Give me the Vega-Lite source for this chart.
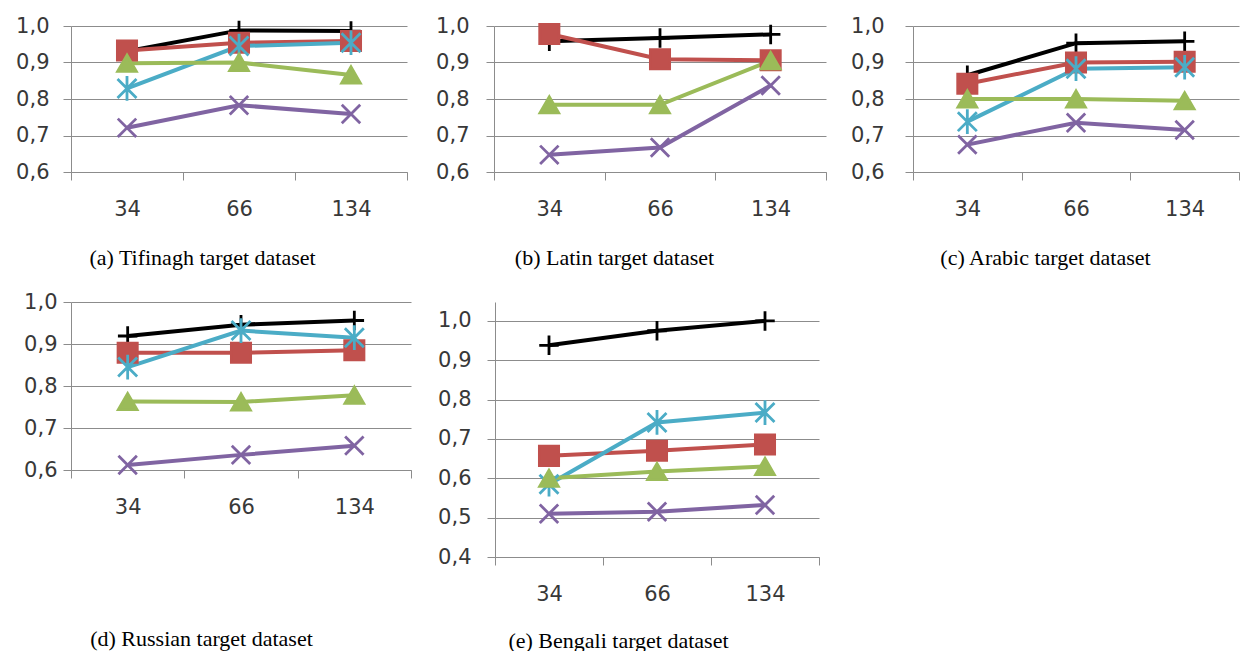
{
  "$schema": "https://vega.github.io/schema/vega-lite/v6.json",
  "background": "white",
  "padding": {"left": 15, "top": 15, "right": 0, "bottom": 0},
  "config": {
    "view": {"stroke": null},
    "axis": {"labelFont": "DejaVu Sans", "labelFontSize": 21, "labelColor": "#383838", "domainColor": "#8c8c8c", "tickColor": "#8c8c8c", "gridColor": "#8c8c8c", "tickSize": 8, "titleFont": "Liberation Serif", "titleFontSize": 22, "titleFontWeight": "normal", "titleColor": "#000000"},
    "axisX": {"grid": false, "labelAngle": 0, "tickBand": "extent", "labelPadding": 18, "titlePadding": 28, "titleAlign": "center"},
    "axisY": {"grid": true, "labelExpr": "replace(format(datum.value, '.1f'), '.', ',')"}
  },
  "data": {"values": [
    {"p":"a","n":"34","s":"A","v":0.931},{"p":"a","n":"66","s":"A","v":0.988},{"p":"a","n":"134","s":"A","v":0.986},
    {"p":"a","n":"34","s":"B","v":0.933},{"p":"a","n":"66","s":"B","v":0.954},{"p":"a","n":"134","s":"B","v":0.959},
    {"p":"a","n":"34","s":"C","v":0.829},{"p":"a","n":"66","s":"C","v":0.945},{"p":"a","n":"134","s":"C","v":0.954},
    {"p":"a","n":"34","s":"D","v":0.898},{"p":"a","n":"66","s":"D","v":0.9},{"p":"a","n":"134","s":"D","v":0.866},
    {"p":"a","n":"34","s":"E","v":0.721},{"p":"a","n":"66","s":"E","v":0.783},{"p":"a","n":"134","s":"E","v":0.759},
    {"p":"b","n":"34","s":"A","v":0.958},{"p":"b","n":"66","s":"A","v":0.967},{"p":"b","n":"134","s":"A","v":0.977},
    {"p":"b","n":"34","s":"B","v":0.978},{"p":"b","n":"66","s":"B","v":0.909},{"p":"b","n":"134","s":"B","v":0.906},
    {"p":"b","n":"34","s":"D","v":0.784},{"p":"b","n":"66","s":"D","v":0.784},{"p":"b","n":"134","s":"D","v":0.905},
    {"p":"b","n":"34","s":"E","v":0.647},{"p":"b","n":"66","s":"E","v":0.667},{"p":"b","n":"134","s":"E","v":0.837},
    {"p":"c","n":"34","s":"A","v":0.865},{"p":"c","n":"66","s":"A","v":0.953},{"p":"c","n":"134","s":"A","v":0.958},
    {"p":"c","n":"34","s":"B","v":0.842},{"p":"c","n":"66","s":"B","v":0.9},{"p":"c","n":"134","s":"B","v":0.902},
    {"p":"c","n":"34","s":"C","v":0.738},{"p":"c","n":"66","s":"C","v":0.883},{"p":"c","n":"134","s":"C","v":0.887},
    {"p":"c","n":"34","s":"D","v":0.8},{"p":"c","n":"66","s":"D","v":0.8},{"p":"c","n":"134","s":"D","v":0.795},
    {"p":"c","n":"34","s":"E","v":0.675},{"p":"c","n":"66","s":"E","v":0.735},{"p":"c","n":"134","s":"E","v":0.715},
    {"p":"d","n":"34","s":"A","v":0.919},{"p":"d","n":"66","s":"A","v":0.946},{"p":"d","n":"134","s":"A","v":0.956},
    {"p":"d","n":"34","s":"B","v":0.879},{"p":"d","n":"66","s":"B","v":0.879},{"p":"d","n":"134","s":"B","v":0.885},
    {"p":"d","n":"34","s":"C","v":0.845},{"p":"d","n":"66","s":"C","v":0.932},{"p":"d","n":"134","s":"C","v":0.915},
    {"p":"d","n":"34","s":"D","v":0.763},{"p":"d","n":"66","s":"D","v":0.762},{"p":"d","n":"134","s":"D","v":0.778},
    {"p":"d","n":"34","s":"E","v":0.612},{"p":"d","n":"66","s":"E","v":0.636},{"p":"d","n":"134","s":"E","v":0.658},
    {"p":"e","n":"34","s":"A","v":0.938},{"p":"e","n":"66","s":"A","v":0.975},{"p":"e","n":"134","s":"A","v":1.0},
    {"p":"e","n":"34","s":"B","v":0.657},{"p":"e","n":"66","s":"B","v":0.67},{"p":"e","n":"134","s":"B","v":0.686},
    {"p":"e","n":"34","s":"C","v":0.585},{"p":"e","n":"66","s":"C","v":0.742},{"p":"e","n":"134","s":"C","v":0.767},
    {"p":"e","n":"34","s":"D","v":0.6},{"p":"e","n":"66","s":"D","v":0.617},{"p":"e","n":"134","s":"D","v":0.63},
    {"p":"e","n":"34","s":"E","v":0.51},{"p":"e","n":"66","s":"E","v":0.515},{"p":"e","n":"134","s":"E","v":0.532}
  ]},
  "bounds": "flush",
  "spacing": 276,
  "vconcat": [
    {
      "bounds": "flush",
      "spacing": 87,
      "hconcat": [
        {
          "width": 336, "height": 146,
          "transform": [{"filter": "datum.p === 'a'"}],
          "encoding": {
            "x": {"field": "n", "type": "ordinal", "sort": ["34", "66", "134"], "scale": {"type": "band", "paddingInner": 0, "paddingOuter": 0}, "axis": {"title": "(a) Tifinagh target dataset", "titleX": 131}},
            "y": {"field": "v", "type": "quantitative", "scale": {"domain": [0.6, 1.0], "nice": false, "zero": false}, "axis": {"title": null, "values": [0.6, 0.7, 0.8, 0.9, 1.0], "labelPadding": 14}},
            "color": {"field": "s", "type": "nominal", "scale": {"domain": ["A", "B", "C", "D", "E"], "range": ["#000000", "#C0504D", "#4BACC6", "#9BBB59", "#8064A2"]}, "legend": null}
          },
          "layer": [
            {"mark": {"type": "line", "strokeWidth": 4}},
            {"mark": {"type": "point", "filled": false, "opacity": 1, "strokeWidth": 2.8},
             "encoding": {
               "shape": {"field": "s", "type": "nominal", "scale": {"domain": ["A", "B", "C", "D", "E"], "range": ["M-1,0L1,0M0,-1L0,1", "square", "M-1,-1L1,1M-1,1L1,-1M0,-1.3L0,1.3", "triangle-up", "M-1,-1L1,1M-1,1L1,-1"]}, "legend": null},
               "fill": {"field": "s", "type": "nominal", "scale": {"domain": ["A", "B", "C", "D", "E"], "range": ["transparent", "#C0504D", "transparent", "#9BBB59", "transparent"]}, "legend": null},
               "size": {"field": "s", "type": "nominal", "scale": {"domain": ["A", "B", "C", "D", "E"], "range": [380, 340, 260, 450, 330]}, "legend": null}
             }}
          ]
        },
        {
          "width": 332, "height": 146,
          "transform": [{"filter": "datum.p === 'b'"}],
          "encoding": {
            "x": {"field": "n", "type": "ordinal", "sort": ["34", "66", "134"], "scale": {"type": "band", "paddingInner": 0, "paddingOuter": 0}, "axis": {"title": "(b) Latin target dataset", "titleX": 120}},
            "y": {"field": "v", "type": "quantitative", "scale": {"domain": [0.6, 1.0], "nice": false, "zero": false}, "axis": {"title": null, "values": [0.6, 0.7, 0.8, 0.9, 1.0], "labelPadding": 17}},
            "color": {"field": "s", "type": "nominal", "scale": {"domain": ["A", "B", "C", "D", "E"], "range": ["#000000", "#C0504D", "#4BACC6", "#9BBB59", "#8064A2"]}, "legend": null}
          },
          "layer": [
            {"mark": {"type": "line", "strokeWidth": 4}},
            {"mark": {"type": "point", "filled": false, "opacity": 1, "strokeWidth": 2.8},
             "encoding": {
               "shape": {"field": "s", "type": "nominal", "scale": {"domain": ["A", "B", "C", "D", "E"], "range": ["M-1,0L1,0M0,-1L0,1", "square", "M-1,-1L1,1M-1,1L1,-1M0,-1.3L0,1.3", "triangle-up", "M-1,-1L1,1M-1,1L1,-1"]}, "legend": null},
               "fill": {"field": "s", "type": "nominal", "scale": {"domain": ["A", "B", "C", "D", "E"], "range": ["transparent", "#C0504D", "transparent", "#9BBB59", "transparent"]}, "legend": null},
               "size": {"field": "s", "type": "nominal", "scale": {"domain": ["A", "B", "C", "D", "E"], "range": [380, 340, 260, 450, 330]}, "legend": null}
             }}
          ]
        },
        {
          "width": 326, "height": 146,
          "transform": [{"filter": "datum.p === 'c'"}],
          "encoding": {
            "x": {"field": "n", "type": "ordinal", "sort": ["34", "66", "134"], "scale": {"type": "band", "paddingInner": 0, "paddingOuter": 0}, "axis": {"title": "(c) Arabic target dataset", "titleX": 132}},
            "y": {"field": "v", "type": "quantitative", "scale": {"domain": [0.6, 1.0], "nice": false, "zero": false}, "axis": {"title": null, "values": [0.6, 0.7, 0.8, 0.9, 1.0], "labelPadding": 21}},
            "color": {"field": "s", "type": "nominal", "scale": {"domain": ["A", "B", "C", "D", "E"], "range": ["#000000", "#C0504D", "#4BACC6", "#9BBB59", "#8064A2"]}, "legend": null}
          },
          "layer": [
            {"mark": {"type": "line", "strokeWidth": 4}},
            {"mark": {"type": "point", "filled": false, "opacity": 1, "strokeWidth": 2.8},
             "encoding": {
               "shape": {"field": "s", "type": "nominal", "scale": {"domain": ["A", "B", "C", "D", "E"], "range": ["M-1,0L1,0M0,-1L0,1", "square", "M-1,-1L1,1M-1,1L1,-1M0,-1.3L0,1.3", "triangle-up", "M-1,-1L1,1M-1,1L1,-1"]}, "legend": null},
               "fill": {"field": "s", "type": "nominal", "scale": {"domain": ["A", "B", "C", "D", "E"], "range": ["transparent", "#C0504D", "transparent", "#9BBB59", "transparent"]}, "legend": null},
               "size": {"field": "s", "type": "nominal", "scale": {"domain": ["A", "B", "C", "D", "E"], "range": [380, 340, 260, 450, 330]}, "legend": null}
             }}
          ]
        }
      ]
    },
    {
      "bounds": "flush",
      "spacing": 84,
      "hconcat": [
        {
          "width": 340, "height": 168,
          "transform": [{"filter": "datum.p === 'd'"}],
          "encoding": {
            "x": {"field": "n", "type": "ordinal", "sort": ["34", "66", "134"], "scale": {"type": "band", "paddingInner": 0, "paddingOuter": 0}, "axis": {"title": "(d) Russian target dataset", "titleX": 130, "titlePadding": 111}},
            "y": {"field": "v", "type": "quantitative", "scale": {"domain": [0.6, 1.0], "nice": false, "zero": false}, "axis": {"title": null, "values": [0.6, 0.7, 0.8, 0.9, 1.0], "labelPadding": 6}},
            "color": {"field": "s", "type": "nominal", "scale": {"domain": ["A", "B", "C", "D", "E"], "range": ["#000000", "#C0504D", "#4BACC6", "#9BBB59", "#8064A2"]}, "legend": null}
          },
          "layer": [
            {"mark": {"type": "line", "strokeWidth": 4}},
            {"mark": {"type": "point", "filled": false, "opacity": 1, "strokeWidth": 2.8},
             "encoding": {
               "shape": {"field": "s", "type": "nominal", "scale": {"domain": ["A", "B", "C", "D", "E"], "range": ["M-1,0L1,0M0,-1L0,1", "square", "M-1,-1L1,1M-1,1L1,-1M0,-1.3L0,1.3", "triangle-up", "M-1,-1L1,1M-1,1L1,-1"]}, "legend": null},
               "fill": {"field": "s", "type": "nominal", "scale": {"domain": ["A", "B", "C", "D", "E"], "range": ["transparent", "#C0504D", "transparent", "#9BBB59", "transparent"]}, "legend": null},
               "size": {"field": "s", "type": "nominal", "scale": {"domain": ["A", "B", "C", "D", "E"], "range": [380, 340, 260, 450, 330]}, "legend": null}
             }}
          ]
        },
        {
          "width": 324, "height": 255,
          "transform": [{"filter": "datum.p === 'e'"}],
          "encoding": {
            "x": {"field": "n", "type": "ordinal", "sort": ["34", "66", "134"], "scale": {"type": "band", "paddingInner": 0, "paddingOuter": 0}, "axis": {"title": "(e) Bengali target dataset", "titleX": 123, "titlePadding": 26}},
            "y": {"field": "v", "type": "quantitative", "scale": {"domain": [0.4, 1.048], "nice": false, "zero": false}, "axis": {"title": null, "values": [0.4, 0.5, 0.6, 0.7, 0.8, 0.9, 1.0], "labelPadding": 16}},
            "color": {"field": "s", "type": "nominal", "scale": {"domain": ["A", "B", "C", "D", "E"], "range": ["#000000", "#C0504D", "#4BACC6", "#9BBB59", "#8064A2"]}, "legend": null}
          },
          "layer": [
            {"mark": {"type": "line", "strokeWidth": 4}},
            {"mark": {"type": "point", "filled": false, "opacity": 1, "strokeWidth": 2.8},
             "encoding": {
               "shape": {"field": "s", "type": "nominal", "scale": {"domain": ["A", "B", "C", "D", "E"], "range": ["M-1,0L1,0M0,-1L0,1", "square", "M-1,-1L1,1M-1,1L1,-1M0,-1.3L0,1.3", "triangle-up", "M-1,-1L1,1M-1,1L1,-1"]}, "legend": null},
               "fill": {"field": "s", "type": "nominal", "scale": {"domain": ["A", "B", "C", "D", "E"], "range": ["transparent", "#C0504D", "transparent", "#9BBB59", "transparent"]}, "legend": null},
               "size": {"field": "s", "type": "nominal", "scale": {"domain": ["A", "B", "C", "D", "E"], "range": [380, 340, 260, 450, 330]}, "legend": null}
             }}
          ]
        }
      ]
    }
  ]
}
